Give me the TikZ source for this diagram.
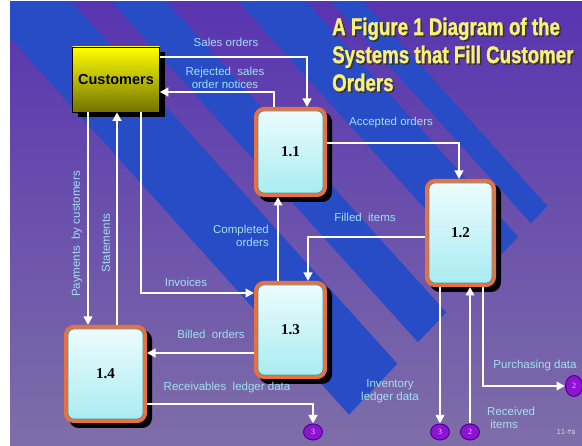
\documentclass[tikz,border=0pt]{standalone}
\usepackage{graphicx}
\usepackage{fontspec}
\setmainfont{Liberation Sans}
\newfontfamily\numfont{Liberation Serif}
\newfontfamily\pagefont{DejaVu Sans}
\newfontfamily\titlefont{Liberation Sans}[BoldFeatures={FakeBold=1.5}]
\usetikzlibrary{arrows.meta,shapes.geometric,shadows,positioning}

\definecolor{bgtop}{RGB}{88,52,176}
\definecolor{bgbot}{RGB}{126,110,168}
\definecolor{band}{RGB}{40,76,198}
\definecolor{labelcyan}{RGB}{160,225,240}
\definecolor{procorange}{RGB}{236,112,62}
\definecolor{procrim}{RGB}{70,150,150}
\definecolor{proctop}{RGB}{236,252,253}
\definecolor{procbot}{RGB}{170,236,242}
\definecolor{titleyellow}{RGB}{250,240,120}
\definecolor{storefill}{RGB}{140,20,210}
\definecolor{storerim}{RGB}{80,0,140}

\newcommand\titlelines{%
  \scalebox{0.78}[1]{A Figure 1 Diagram of the}\\
  \scalebox{0.78}[1]{Systems that Fill Customer}\\
  \scalebox{0.78}[1]{Orders}}

\tikzset{
  flow/.style={draw=white, line width=2.7pt, -{Triangle[length=8.5pt,width=8.5pt]}},
  lbl/.style={text=labelcyan, font=\fontsize{11.5}{13}\selectfont, inner sep=0pt, align=center},
  proc/.style={rectangle, rounded corners=6pt, inner sep=0pt, outer sep=4pt,
    draw=procrim, line width=0.7pt, top color=proctop, bottom color=procbot,
    font=\numfont\bfseries\fontsize{15}{15}\selectfont,
    drop shadow={shadow xshift=5pt, shadow yshift=-5pt, opacity=1, fill=black, draw=black, line width=8pt},
    preaction={draw=procorange, line width=8pt}},
  extent/.style={rectangle, draw=black, line width=0.6pt, inner sep=0pt,
    minimum width=87pt, minimum height=65pt,
    shading angle=45, top color=yellow, middle color=yellow!92!black, bottom color=yellow!45!black,
    font=\bfseries\fontsize{14.5}{15}\selectfont,
    drop shadow={shadow xshift=5pt, shadow yshift=-5pt, opacity=1, fill=black}},
  store/.style={ellipse, fill=storefill, draw=storerim, line width=1pt,
    minimum width=19pt, minimum height=16pt, inner sep=0pt,
    text=violet!15, font=\numfont\fontsize{8}{8}\selectfont},
  heading/.style={text=titleyellow, font=\titlefont\bfseries\fontsize{24}{28}\selectfont,
    align=left, inner sep=0pt, anchor=north west}
}

\begin{document}
\begin{tikzpicture}[x=1pt, y=-1pt]
  % page and striped backdrop
  \useasboundingbox (0,0) rectangle (582,446);
  \fill[white] (0,0) rectangle (582,446);
  \shade[top color=bgtop, bottom color=bgbot] (10,2) rectangle (582,446);
  \begin{scope}
    \clip (10,2) rectangle (582,446);
    \fill[band] (-42,-20) -- (52,-20) -- (397.4,363.8) -- (349,414.6) -- cycle;
    \fill[band] (92,-20) -- (147,-20) -- (446.2,312.4) -- (418,342.2) -- cycle;
    \fill[band] (219,-20) -- (287,-20) -- (518,236.8) -- (483.2,273.5) -- cycle;
    \fill[band] (312,-20) -- (344,-20) -- (547.4,206) -- (530.9,223.2) -- cycle;
  \end{scope}

  % title
  \node[heading, text=black!80] at (333.5,19) {\titlelines};
  \node[heading] (ttl) at (332,17.5) {\titlelines};

  % external entity and processes
  \node[extent] (cust) at (116,79.5) {Customers};
  \node[proc, minimum width=65pt, minimum height=82pt] (p11) at (290.5,152) {1.1};
  \node[proc, minimum width=63pt, minimum height=100pt] (p12) at (460.5,233) {1.2};
  \node[proc, minimum width=65pt, minimum height=90pt] (p13) at (290.5,330) {1.3};
  \node[proc, minimum width=75pt, minimum height=90pt] (p14) at (105.5,374) {1.4};

  % off-page connectors
  \node[store] (c3a) at (313,432) {3};
  \node[store] (c3b) at (440,432) {3};
  \node[store] (c2a) at (470,432) {2};
  \node[store, minimum width=17pt, minimum height=21pt] (c2b) at (574,386) {2};

  % data flows
  \draw[flow] (cust.east |- 0,57) -| (p11.north -| 307,0);
  \draw[flow] (p11.north -| 274,0) |- (cust.east |- 0,92);
  \draw[flow] (p11.east |- 0,143) -| (p12.north -| 459,0);
  \draw[flow] (p12.west |- 0,237) -| (p13.north -| 308,0);
  \draw[flow] (p13.north -| 278,0) -- (p11.south -| 278,0);
  \draw[flow] (cust.south -| 141,0) |- (p13.west |- 0,293);
  \draw[flow] (cust.south -| 88,0) -- (p14.north -| 88,0);
  \draw[flow] (p14.north -| 117,0) -- (cust.south -| 117,0);
  \draw[flow] (p13.west |- 0,353) -- (p14.east |- 0,353);
  \draw[flow] (p14.east |- 0,404) -| (c3a.north);
  \draw[flow] (p12.south -| 440,0) -- (c3b.north);
  \draw[flow] (c2a.north) -- (p12.south -| 470,0);
  \draw[flow] (p12.south -| 483,0) |- (c2b.west);

  % flow labels
  \node[lbl] (lso) at (226,42) {Sales orders};
  \node[lbl] (lrej) at (225,78) {Rejected\ \ sales\\order notices};
  \node[lbl] (lacc) at (391,123) {Accepted orders};
  \node[lbl] (lfill) at (365,217) {Filled\ \ items};
  \node[lbl, align=right, anchor=east] (lcomp) at (269,236) {Completed\\orders};
  \node[lbl] (linv) at (186,282) {Invoices};
  \node[lbl, rotate=90] (lpay) at (77,234) {Payments\ \ by customers};
  \node[lbl, rotate=90] (lstat) at (106,243) {Statements};
  \node[lbl] (lbill) at (211,334) {Billed\ \ orders};
  \node[lbl] (lrecv) at (227,388) {Receivables\ \ ledger data};
  \node[lbl] (linvl) at (390,391) {Inventory\\ledger data};
  \node[lbl] (lpur) at (535,366) {Purchasing data};
  \node[lbl, align=left, anchor=west] (lrcv) at (487,418) {Received\\\ items};
  \node[text=violet!20, font=\pagefont\fontsize{7}{7}\selectfont, inner sep=0pt] (pg) at (566,432) {11-۳۵};
\end{tikzpicture}
\end{document}
